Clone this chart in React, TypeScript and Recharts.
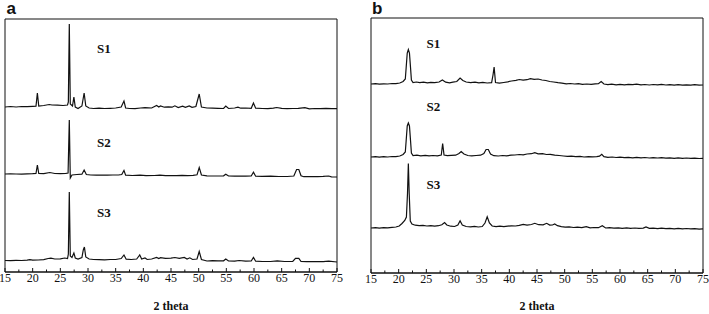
import { ComposedChart, Line, XAxis, YAxis, ReferenceArea } from "recharts";

type Pt = [number, number];

// 2θ axis ticks (major every 5, minor in between)
const TWO_THETA_TICKS = [
  15, 17.5, 20, 22.5, 25, 27.5, 30, 32.5, 35, 37.5, 40, 42.5, 45, 47.5, 50,
  52.5, 55, 57.5, 60, 62.5, 65, 67.5, 70, 72.5, 75,
];
const SAMPLE_NAMES = ["S1", "S2", "S3"];

// panel a — stacked patterns, intensity in arbitrary offset units
const A_S1: Pt[] = [
  [15, 165], [16, 165.5], [17, 165], [18, 165.5], [19, 165.3], [20, 165.6], [20.6, 165.8],
  [20.85, 179], [21.1, 166], [22, 166.5], [23, 167.5], [23.5, 167], [24.5, 166.8],
  [25.5, 166.5], [26.3, 167], [26.45, 170], [26.62, 248], [26.8, 168], [27.2, 166],
  [27.45, 175], [27.7, 165], [28.2, 163.5], [28.9, 166], [29.3, 179], [29.6, 166],
  [30.2, 164], [31, 163.5], [32, 163.8], [33, 163.5], [34, 163.7], [35, 164], [36, 165],
  [36.5, 171], [36.8, 164], [37.5, 163.5], [38.5, 163.3], [39.5, 164], [40.3, 164.3],
  [41.5, 164], [42.4, 166.5], [42.8, 165], [43.1, 166], [43.8, 164.8], [44.5, 165.2],
  [45.2, 164.8], [45.7, 166.2], [46.3, 164.5], [47.1, 165.8], [47.6, 164.6], [48.3, 166],
  [48.8, 164.7], [49.5, 165.5], [50.1, 178], [50.5, 165], [51.5, 164], [52.5, 163.8],
  [53.5, 163.6], [54.5, 163.5], [54.9, 166], [55.4, 163.5], [56.5, 164], [57.1, 164.8],
  [57.6, 163.8], [58.5, 164], [59.5, 163.7], [59.9, 169], [60.3, 163.8], [61.5, 163.5],
  [62.5, 163.3], [63.5, 163.8], [64.1, 164.5], [65, 163.6], [66, 163.4], [67, 163.5],
  [68, 163.6], [69.2, 164.3], [70, 163.2], [71, 163.5], [72, 163.3], [73, 163.6],
  [74, 163.4], [75, 163.3],
];
const A_S2: Pt[] = [
  [15, 98], [16, 98.2], [17, 98], [18, 97.8], [19, 98.2], [20, 98.3], [20.6, 98.5],
  [20.85, 107], [21.1, 98.5], [22, 98.3], [23.1, 99.5], [24, 98.5], [25, 98.3], [26, 98.6],
  [26.4, 99], [26.62, 152], [26.8, 94], [27.1, 97], [28, 97.5], [28.9, 97.8], [29.3, 102],
  [29.7, 97.5], [30.5, 97], [31.5, 96.8], [32.5, 97], [33.5, 96.8], [34.5, 97], [35.5, 97],
  [36.1, 97.5], [36.5, 101.5], [36.8, 96.8], [38, 96.5], [39.4, 96.8], [40.5, 96.3],
  [42, 96.5], [43, 96.8], [44, 96.4], [45, 96.5], [46, 96.3], [47, 96.6], [48, 96.4],
  [49, 96.6], [49.7, 97.2], [50.1, 104.5], [50.5, 97], [51.5, 96.2], [53, 96], [54.5, 96.2],
  [54.9, 97.8], [55.4, 96], [56.5, 95.8], [57.5, 96], [58.5, 95.8], [59.5, 96], [59.9, 99.7],
  [60.3, 95.8], [61.5, 95.6], [63, 95.8], [64.5, 95.5], [66, 95.5], [67.2, 96],
  [67.7, 102.5], [68.1, 102.5], [68.5, 96.3], [69, 95.3], [70, 95.5], [71.5, 95.4],
  [72.5, 95.6], [73.5, 96], [74, 95.2], [75, 95],
];
const A_S3: Pt[] = [
  [15, 11.5], [16, 11.3], [17, 11.6], [18, 11.5], [19, 11.8], [19.5, 12.3], [20, 11.8],
  [21, 12], [22, 12.3], [22.8, 13.5], [23.3, 13.8], [24, 13], [25, 13.2], [25.8, 14],
  [26.3, 13.5], [26.45, 18], [26.62, 80], [26.8, 16], [27.1, 14.5], [27.45, 19], [27.7, 14],
  [28.2, 13], [28.9, 14.5], [29.15, 22], [29.35, 25], [29.6, 15], [30.2, 13], [31, 12.5],
  [32, 12.3], [33, 12.2], [34, 12.5], [35, 12.5], [36, 13.5], [36.5, 17], [36.9, 12.8],
  [37.8, 12.5], [38.8, 13], [39.35, 17], [39.7, 13], [40.3, 14], [40.7, 12.5], [41.5, 13],
  [42.4, 14.5], [42.8, 13.5], [43.1, 14.3], [44, 13.6], [45, 13.8], [45.7, 14.5],
  [46.5, 13.6], [47.4, 14.5], [47.9, 13], [48.4, 14.2], [48.9, 12.5], [49.7, 13],
  [50.1, 20.5], [50.5, 12.5], [51.5, 11], [52.5, 11.3], [53.5, 11.2], [54.5, 11.2],
  [54.9, 13], [55.4, 11], [56.5, 10.8], [57.3, 11.5], [58.5, 10.8], [59.5, 11], [59.9, 14.5],
  [60.3, 10.8], [61.5, 10.5], [63, 10.5], [64.2, 11.2], [65.5, 10.5], [67, 10.6],
  [67.5, 13.7], [68.1, 13.7], [68.5, 10.5], [69.5, 10.3], [71, 10.4], [72.5, 10.3],
  [73.5, 10.8], [75, 10],
];

// panel b
const B_S1: Pt[] = [
  [15, 189], [15.8, 189.3], [16.5, 188.8], [17.3, 189.2], [18, 189], [18.8, 189.5],
  [19.5, 189.3], [20.2, 190], [20.8, 191.5], [21.2, 194], [21.35, 205], [21.55, 220],
  [21.75, 223.5], [21.95, 220], [22.15, 205], [22.3, 193], [22.6, 190.5], [23.2, 191],
  [23.8, 190.3], [24.5, 190.8], [25.2, 190.2], [25.8, 190.7], [26.5, 190.3], [27.3, 191],
  [27.9, 193], [28.5, 190.8], [29.2, 190.2], [29.8, 190.8], [30.5, 191.5], [31.1, 195],
  [31.6, 192.5], [32.2, 191], [33, 190.3], [33.8, 190.8], [34.5, 190.2], [35.2, 190.6],
  [36, 190], [36.8, 190.4], [37.05, 198], [37.25, 206], [37.5, 190.5], [38.2, 189.8],
  [39, 190.5], [39.7, 191.2], [40.4, 192], [41.2, 192.6], [41.8, 193.5], [42.5, 192.8],
  [43.2, 193.3], [43.8, 194.3], [44.5, 193.6], [45.2, 194], [45.9, 193], [46.6, 192.5],
  [47.3, 191.5], [48, 191], [48.8, 190.3], [49.5, 189.8], [50.3, 189.2], [51, 189.5],
  [51.8, 189], [52.5, 189.3], [53.2, 188.6], [54, 189], [54.8, 188.7], [55.5, 189.1],
  [56.1, 189.3], [56.6, 191.5], [57.1, 189], [57.8, 188.4], [58.5, 188.8], [59.3, 188.2],
  [60, 188.6], [60.8, 188.1], [61.5, 188.7], [62.3, 188.3], [63, 188.8], [63.8, 188.2],
  [64.5, 188.5], [65.3, 188], [66, 188.5], [66.8, 188.1], [67.5, 188.6], [68.3, 188],
  [69, 188.4], [69.8, 187.9], [70.5, 188.3], [71.3, 187.8], [72, 188.2], [72.8, 187.9],
  [73.5, 188.3], [74.3, 187.8], [75, 188],
];
const B_S2: Pt[] = [
  [15, 116], [15.8, 116.4], [16.5, 115.8], [17.3, 116.3], [18, 116], [18.8, 116.5],
  [19.5, 116.3], [20.2, 117], [20.8, 118.5], [21.2, 121], [21.35, 132], [21.55, 147],
  [21.75, 150], [21.95, 147], [22.15, 132], [22.3, 120], [22.6, 117.5], [23.3, 117.8],
  [24, 117.2], [24.8, 117.6], [25.5, 117.1], [26.2, 117.5], [27, 117.2], [27.7, 118],
  [27.95, 129.5], [28.2, 118], [28.8, 117.3], [29.5, 117.6], [30.3, 117.8], [30.9, 119.5],
  [31.3, 121.5], [31.8, 119], [32.5, 117.5], [33.2, 117.2], [34, 117.5], [34.8, 117.8],
  [35.4, 119.5], [35.8, 123.5], [36.2, 123.5], [36.6, 119], [37.2, 117.3], [38, 117],
  [38.8, 117.5], [39.5, 117.2], [40.3, 117.8], [41, 118], [41.8, 118.5], [42.5, 118.2],
  [43.2, 119], [44, 119.3], [44.6, 120.3], [45.2, 119.2], [46, 119.3], [46.7, 118.5],
  [47.4, 118.6], [48.2, 117.8], [49, 117.5], [49.8, 117], [50.5, 116.6], [51.2, 116.9],
  [52, 116.3], [52.8, 116.6], [53.5, 116], [54.3, 116.4], [55, 116.1], [55.8, 116.3],
  [56.3, 116.8], [56.7, 118.6], [57.1, 116.3], [57.8, 115.7], [58.6, 116], [59.3, 115.5],
  [60, 115.9], [60.8, 115.3], [61.5, 115.7], [62.3, 115.2], [63, 115.6], [63.8, 115.1],
  [64.5, 115.5], [65.3, 115], [66, 115.4], [66.8, 115], [67.5, 115.3], [68.3, 114.8],
  [69, 115.2], [69.8, 114.7], [70.5, 115.1], [71.3, 114.6], [72, 115], [72.8, 114.6],
  [73.5, 114.9], [74.3, 114.5], [75, 114.6],
];
const B_S3: Pt[] = [
  [15, 45], [15.8, 45.3], [16.5, 44.8], [17.3, 45.3], [18, 45.1], [18.8, 45.6], [19.5, 46],
  [20.1, 47], [20.6, 49.5], [21.1, 52.5], [21.4, 56], [21.6, 80], [21.75, 109.5],
  [21.9, 80], [22.1, 52], [22.4, 49], [23, 47.8], [23.7, 47.3], [24.4, 47.6], [25.1, 47],
  [25.8, 47.4], [26.5, 46.9], [27.2, 47.3], [27.8, 48.3], [28.3, 50.5], [28.7, 48],
  [29.4, 46.8], [30.1, 46.5], [30.7, 48], [31.1, 52.3], [31.5, 48], [32.2, 46.5], [33, 46.2],
  [33.7, 46.6], [34.4, 46], [35.1, 46.5], [35.6, 50], [36, 56.3], [36.4, 50], [36.9, 47],
  [37.6, 46.4], [38.3, 46.8], [39, 46.4], [39.7, 46.9], [40.4, 47.2], [41.1, 47],
  [41.8, 47.6], [42.5, 48.7], [43.2, 47.9], [44, 48.5], [44.6, 49.7], [45.3, 48.3],
  [46.1, 48.2], [46.75, 49.7], [47.3, 47.9], [47.8, 48], [48.2, 49], [48.7, 47.3],
  [49.4, 46.3], [50.1, 45.8], [50.8, 46.1], [51.6, 45.5], [52.3, 45.8], [53.1, 45.4],
  [53.9, 46.3], [54.6, 45.2], [55.3, 45.5], [56.1, 45.3], [56.8, 47.3], [57.4, 45],
  [58.1, 45.4], [58.9, 44.8], [59.7, 45.2], [60.4, 44.7], [61.2, 45.1], [61.9, 44.6],
  [62.7, 45], [63.4, 44.6], [64.2, 44.9], [64.7, 46], [65.3, 44.7], [66, 44.9], [66.8, 44.4],
  [67.5, 44.8], [68.3, 44.3], [69, 44.7], [69.8, 44.2], [70.5, 44.6], [71.3, 44.1],
  [72, 44.5], [72.8, 44.1], [73.5, 44.4], [74.3, 43.9], [75, 44.1],
];

const INK = "#111";
const SERIF = "Liberation Serif, DejaVu Serif, serif";

const toRows = (pts: Pt[]) => pts.map(([x, y]) => ({ x, y }));

function AxisTick(props: any) {
  const { x, y, payload } = props;
  const v = payload.value as number;
  const major = v % 5 === 0;
  return (
    <g>
      <line x1={x} x2={x} y1={y} y2={y - (major ? 4 : 2.5)} stroke={INK} />
      {major && (
        <text x={x} y={y + 10} textAnchor="middle" style={{ fontFamily: SERIF, fontSize: 12 }} fill={INK}>
          {v}
        </text>
      )}
    </g>
  );
}

type PanelProps = {
  left: number;
  letter: string;
  letterX: number;
  series: Pt[][];
  labelPos: [number, number][];
  margin: { top: number; right: number; bottom: number; left: number };
  axisHeight: number;
  yMax: number;
};

function Panel({ left, letter, letterX, series, labelPos, margin, axisHeight, yMax }: PanelProps) {
  return (
    <div style={{ position: "absolute", left, top: 0, width: 354, height: 314 }}>
      <ComposedChart width={354} height={314} margin={margin}>
        <XAxis
          dataKey="x"
          type="number"
          domain={[15, 75]}
          ticks={TWO_THETA_TICKS}
          interval={0}
          allowDataOverflow
          height={axisHeight}
          tickSize={0}
          tickMargin={0}
          tickLine={false}
          axisLine={{ stroke: INK }}
          tick={AxisTick}
          label={{
            value: "2 theta",
            position: "insideBottom",
            offset: 4,
            style: { fontFamily: SERIF, fontWeight: 700, fontSize: 12, fill: INK },
          }}
        />
        <YAxis hide domain={[0, yMax]} allowDataOverflow />
        <ReferenceArea x1={15} x2={75} y1={0} y2={yMax} fill="none" fillOpacity={0} stroke={INK} />
        {series.map((s, i) => (
          <Line
            key={SAMPLE_NAMES[i]}
            data={toRows(s)}
            dataKey="y"
            type="linear"
            stroke={INK}
            strokeWidth={1.2}
            dot={false}
            isAnimationActive={false}
          />
        ))}
      </ComposedChart>
      <span
        style={{
          position: "absolute", left: letterX, top: 0, fontFamily: "Liberation Sans, Arial, sans-serif",
          fontWeight: 700, fontSize: 17, lineHeight: "17px", color: INK,
        }}
      >
        {letter}
      </span>
      {labelPos.map(([lx, ly], i) => (
        <span
          key={SAMPLE_NAMES[i]}
          style={{
            position: "absolute", left: lx, top: ly, fontFamily: SERIF, fontWeight: 700,
            fontSize: 13, lineHeight: "13px", color: INK,
          }}
        >
          {SAMPLE_NAMES[i]}
        </span>
      ))}
    </div>
  );
}

export default function App() {
  return (
    <div style={{ position: "absolute", left: 0, top: 0, width: 709, height: 314, background: "#fff" }}>
      <Panel
        left={0}
        letter="a"
        letterX={6.5}
        series={[A_S1, A_S2, A_S3]}
        labelPos={[[97, 41.5], [97, 135.5], [97, 205.5]]}
        margin={{ top: 19, right: 17, bottom: 0, left: 5 }}
        axisHeight={42}
        yMax={253}
      />
      <Panel
        left={355}
        letter="b"
        letterX={17}
        series={[B_S1, B_S2, B_S3]}
        labelPos={[[71.5, 36.5], [71.5, 99.5], [71.5, 177.5]]}
        margin={{ top: 18, right: 6, bottom: 0, left: 16 }}
        axisHeight={41}
        yMax={255}
      />
    </div>
  );
}
